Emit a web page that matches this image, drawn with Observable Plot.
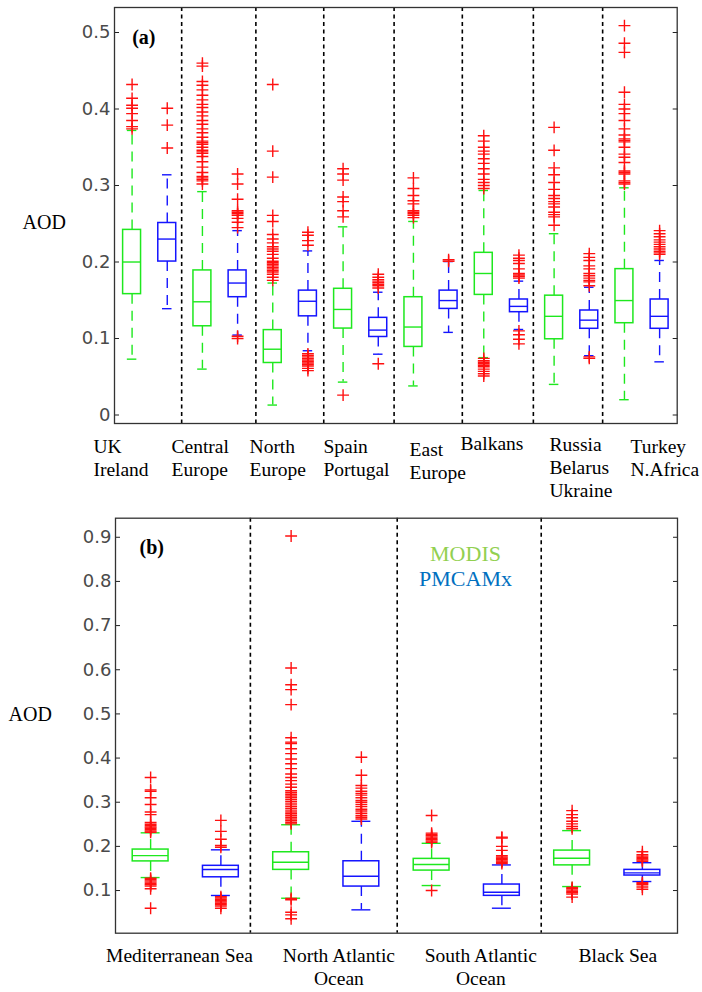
<!DOCTYPE html>
<html><head><meta charset="utf-8">
<script src="https://cdn.jsdelivr.net/npm/d3@7"></script>
<script src="https://cdn.jsdelivr.net/npm/@observablehq/plot@0.6"></script>
<style>body{margin:0;background:#fff;} svg{display:block;}</style>
</head><body><div id="chart"></div><script>
// ---------- Panel (a): land regions ----------
const regionsA = ["UK\nIreland", "Central\nEurope", "North\nEurope", "Spain\nPortugal", "East\nEurope", "Balkans", "Russia\nBelarus\nUkraine", "Turkey\nN.Africa"];
// [lower whisker, q1, median, q3, upper whisker]
const modisA = [
  [0.073, 0.158, 0.200, 0.242, 0.372],
  [0.060, 0.116, 0.148, 0.189, 0.292],
  [0.013, 0.068, 0.086, 0.111, 0.1725],
  [0.043, 0.113, 0.138, 0.165, 0.246],
  [0.038, 0.089, 0.115, 0.154, 0.253],
  [0.075, 0.157, 0.185, 0.212, 0.2935],
  [0.040, 0.099, 0.129, 0.156, 0.237],
  [0.020, 0.120, 0.1496, 0.1907, 0.297]
];
const pmcamxA = [
  [0.139, 0.2006, 0.230, 0.251, 0.314],
  [0.1045, 0.154, 0.1725, 0.189, 0.241],
  [0.084, 0.129, 0.1487, 0.1626, 0.2145],
  [0.0795, 0.102, 0.111, 0.127, 0.1605],
  [0.108, 0.1387, 0.1496, 0.1626, 0.2006],
  [0.1118, 0.1344, 0.142, 0.151, 0.175],
  [0.0775, 0.1127, 0.124, 0.1366, 0.167],
  [0.0695, 0.1127, 0.129, 0.151, 0.202]
];
const modisA_out = [
  [0.432, 0.414, 0.405, 0.401, 0.394, 0.385, 0.377, 0.374],
  [0.460, 0.456, 0.436, 0.431, 0.425, 0.418, 0.412, 0.406, 0.402, 0.396, 0.391, 0.385, 0.380, 0.374, 0.369, 0.363, 0.358, 0.356, 0.354, 0.350, 0.346, 0.344, 0.342, 0.338, 0.331, 0.324, 0.317, 0.312, 0.310, 0.308, 0.306, 0.302],
  [0.432, 0.345, 0.311, 0.261, 0.253, 0.236, 0.230, 0.225, 0.220, 0.217, 0.214, 0.210, 0.205, 0.201, 0.199, 0.197, 0.195, 0.193, 0.191, 0.189, 0.187, 0.184, 0.180, 0.176],
  [0.322, 0.315, 0.307, 0.285, 0.279, 0.267, 0.259, 0.026],
  [0.310, 0.296, 0.287, 0.280, 0.276, 0.267, 0.265, 0.263, 0.261, 0.258],
  [0.365, 0.358, 0.350, 0.345, 0.341, 0.335, 0.329, 0.322, 0.315, 0.308, 0.304, 0.300, 0.296, 0.074, 0.071, 0.069, 0.067, 0.065, 0.063, 0.060, 0.057, 0.054, 0.051],
  [0.376, 0.346, 0.323, 0.314, 0.304, 0.295, 0.287, 0.283, 0.279, 0.276, 0.272, 0.265, 0.262, 0.259, 0.248],
  [0.509, 0.486, 0.474, 0.422, 0.406, 0.400, 0.394, 0.385, 0.374, 0.366, 0.361, 0.359, 0.357, 0.350, 0.341, 0.337, 0.330, 0.319, 0.317, 0.315, 0.306, 0.304, 0.302]
];
const pmcamxA_out = [
  [0.401, 0.379, 0.349],
  [0.315, 0.302, 0.282, 0.267, 0.265, 0.263, 0.261, 0.257, 0.252, 0.245, 0.103, 0.100],
  [0.239, 0.235, 0.228, 0.222, 0.080, 0.078, 0.076, 0.074, 0.072, 0.070, 0.068, 0.066, 0.064, 0.061, 0.058],
  [0.184, 0.180, 0.177, 0.175, 0.173, 0.171, 0.169, 0.166, 0.067],
  [0.203, 0.201],
  [0.209, 0.205, 0.202, 0.198, 0.191, 0.185, 0.183, 0.181, 0.179, 0.110, 0.105, 0.099, 0.093],
  [0.211, 0.206, 0.202, 0.195, 0.191, 0.185, 0.182, 0.179, 0.176, 0.174, 0.169, 0.076, 0.074],
  [0.241, 0.237, 0.233, 0.229, 0.226, 0.223, 0.220, 0.217, 0.214, 0.212, 0.210]
];
const separatorsA = [2.41, 4.52, 6.45, 8.45, 10.39, 12.41, 14.38];
const labelXA = [-0.1, 2.12, 4.34, 6.44, 8.89, 10.34, 12.87, 15.17];
const labelDyA = [0, 0, 0, 0, 3, -3, -1.5, 0];
const yTicksA = [0, 0.1, 0.2, 0.3, 0.4, 0.5];

// ---------- Panel (b): sea regions ----------
const regionsB = ["Mediterranean Sea", "North Atlantic\nOcean", "South Atlantic\nOcean", "Black Sea"];
const modisB = [
  [0.1294, 0.166, 0.179, 0.1928, 0.2307],
  [0.0826, 0.1468, 0.164, 0.1867, 0.249],
  [0.1113, 0.1452, 0.159, 0.1717, 0.207],
  [0.109, 0.157, 0.173, 0.1905, 0.2357]
];
const pmcamxB = [
  [0.0888, 0.130, 0.1476, 0.156, 0.1922],
  [0.0563, 0.109, 0.1324, 0.1663, 0.2568],
  [0.060, 0.088, 0.0962, 0.1136, 0.158],
  [0.1204, 0.134, 0.140, 0.1468, 0.163]
];
const modisB_out = [
  [0.356, 0.328, 0.325, 0.310, 0.295, 0.278, 0.272, 0.254, 0.250, 0.247, 0.244, 0.241, 0.238, 0.235, 0.232, 0.128, 0.125, 0.122, 0.119, 0.116, 0.113, 0.110, 0.104, 0.060],
  [0.903, 0.604, 0.566, 0.555, 0.521, 0.446, 0.436, 0.433, 0.421, 0.410, 0.398, 0.387, 0.376, 0.364, 0.356, 0.349, 0.341, 0.334, 0.326, 0.322, 0.318, 0.314, 0.310, 0.306, 0.302, 0.298, 0.294, 0.290, 0.286, 0.282, 0.278, 0.274, 0.270, 0.266, 0.262, 0.258, 0.254, 0.251, 0.082, 0.079, 0.051, 0.045, 0.036],
  [0.270, 0.230, 0.227, 0.224, 0.221, 0.218, 0.215, 0.212, 0.209, 0.100],
  [0.281, 0.272, 0.265, 0.257, 0.251, 0.245, 0.240, 0.107, 0.104, 0.101, 0.098, 0.095, 0.092, 0.085]
];
const pmcamxB_out = [
  [0.259, 0.234, 0.216, 0.202, 0.198, 0.086, 0.083, 0.080, 0.077, 0.074, 0.071, 0.068, 0.065, 0.060],
  [0.402, 0.361, 0.338, 0.332, 0.325, 0.320, 0.316, 0.310, 0.304, 0.300, 0.295, 0.290, 0.284, 0.280, 0.275, 0.270, 0.266, 0.262],
  [0.221, 0.219, 0.200, 0.191, 0.179, 0.176, 0.173, 0.170, 0.167, 0.164, 0.161],
  [0.188, 0.181, 0.178, 0.175, 0.172, 0.169, 0.166, 0.118, 0.116, 0.113, 0.108, 0.103]
];
const separatorsB = [2.42, 4.51, 6.56];
const labelXB = [1.41, 3.68, 5.70, 7.65];
const yTicksB = [0.1, 0.2, 0.3, 0.4, 0.5, 0.6, 0.7, 0.8, 0.9];

const seriesNames = ["MODIS", "PMCAMx"];

// ---------- helpers ----------
const GREEN = "#1ee81e", BLUE = "#1414ff", RED = "#ff1010";
const SERIF = "Liberation Serif, Times New Roman, serif";

function boxRows(stats, offset) {
  return stats.map((s, i) => ({pos: 2 * i + offset, lo: s[0], q1: s[1], med: s[2], q3: s[3], hi: s[4]}));
}
function outRows(outs, offset) {
  return outs.flatMap((o, i) => o.map(v => ({pos: 2 * i + offset, v})));
}
function boxMarks(rows, color) {
  const hw = 0.255, cw = 0.135, sw = 1.4;
  return [
    Plot.ruleX(rows, {x: "pos", y1: "q3", y2: "hi", stroke: color, strokeWidth: sw, strokeDasharray: "10,7"}),
    Plot.ruleX(rows, {x: "pos", y1: "q1", y2: "lo", stroke: color, strokeWidth: sw, strokeDasharray: "10,7"}),
    Plot.ruleY(rows, {y: "hi", x1: d => d.pos - cw, x2: d => d.pos + cw, stroke: color, strokeWidth: sw}),
    Plot.ruleY(rows, {y: "lo", x1: d => d.pos - cw, x2: d => d.pos + cw, stroke: color, strokeWidth: sw}),
    Plot.rect(rows, {x1: d => d.pos - hw, x2: d => d.pos + hw, y1: "q1", y2: "q3", fill: "none", stroke: color, strokeWidth: 1.5}),
    Plot.ruleY(rows, {y: "med", x1: d => d.pos - hw, x2: d => d.pos + hw, stroke: color, strokeWidth: sw})
  ];
}
function outlierMarks(rows) {
  return Plot.dot(rows, {x: "pos", y: "v", symbol: "plus", r: 3.9, stroke: RED, strokeWidth: 1.4});
}
function axes(ticks) {
  return [
    Plot.axisY(ticks, {anchor: "left", tickSize: 5, dx: 5, tickPadding: 4, tickFormat: d => String(d), label: null, fontSize: 18, fill: "#4a4a4a", stroke: "#222"}),
    Plot.axisY(ticks, {anchor: "right", tickSize: 5, dx: -5, tickFormat: () => "", label: null, stroke: "#222"})
  ];
}
const style = {fontFamily: "DejaVu Sans, sans-serif", fontSize: "18px", color: "#333", background: "white", overflow: "visible"};

// ---------- Panel (a) ----------
const plotA = Plot.plot({
  width: 702, height: 500,
  marginLeft: 114, marginRight: 25.3, marginTop: 7, marginBottom: 77,
  style,
  x: {type: "linear", domain: [0.5, 16.5], axis: null},
  y: {type: "linear", domain: [-0.0111, 0.5327]},
  marks: [
    Plot.ruleX(separatorsA, {x: d => d, stroke: "black", strokeWidth: 1.6, strokeDasharray: "4,3.5"}),
    ...boxMarks(boxRows(modisA, 1), GREEN),
    ...boxMarks(boxRows(pmcamxA, 2), BLUE),
    outlierMarks(outRows(modisA_out, 1)),
    outlierMarks(outRows(pmcamxA_out, 2)),
    ...axes(yTicksA),
    Plot.frame({stroke: "#333", strokeWidth: 1.3}),
    ...regionsA.map((r, i) => Plot.text([r], {x: () => labelXA[i], frameAnchor: "bottom", textAnchor: "start", lineAnchor: "top", lineHeight: 1.18, dy: 12.7 + labelDyA[i], fontFamily: SERIF, fontSize: 19.5, fill: "black"})),
    Plot.text(["AOD"], {frameAnchor: "left", textAnchor: "start", lineAnchor: "middle", dx: -92, dy: 6.6, fontFamily: SERIF, fontSize: 20, fill: "black"}),
    Plot.text(["(a)"], {frameAnchor: "top-left", textAnchor: "start", lineAnchor: "top", dx: 17.7, dy: 21.8, fontFamily: SERIF, fontSize: 20, fontWeight: "bold", fill: "black"})
  ]
});

// ---------- Panel (b) ----------
const plotB = Plot.plot({
  width: 702, height: 492,
  marginLeft: 115, marginRight: 25, marginTop: 17.7, marginBottom: 59.3,
  style,
  x: {type: "linear", domain: [0.5, 8.5], axis: null},
  y: {type: "linear", domain: [0.0034, 0.9432]},
  marks: [
    Plot.ruleX(separatorsB, {x: d => d, stroke: "black", strokeWidth: 1.6, strokeDasharray: "4,3.5"}),
    ...boxMarks(boxRows(modisB, 1), GREEN),
    ...boxMarks(boxRows(pmcamxB, 2), BLUE),
    outlierMarks(outRows(modisB_out, 1)),
    outlierMarks(outRows(pmcamxB_out, 2)),
    ...axes(yTicksB),
    Plot.frame({stroke: "#333", strokeWidth: 1.3}),
    Plot.text(regionsB, {x: (d, i) => labelXB[i], frameAnchor: "bottom", textAnchor: "middle", lineAnchor: "top", lineHeight: 1.18, dy: 12.7, fontFamily: SERIF, fontSize: 19.5, fill: "black"}),
    Plot.text(["AOD"], {frameAnchor: "left", textAnchor: "start", lineAnchor: "middle", dx: -107, dy: -11.6, fontFamily: SERIF, fontSize: 20, fill: "black"}),
    Plot.text(["(b)"], {frameAnchor: "top-left", textAnchor: "start", lineAnchor: "top", dx: 24, dy: 21.1, fontFamily: SERIF, fontSize: 20, fontWeight: "bold", fill: "black"}),
    Plot.text([seriesNames[0]], {frameAnchor: "top", textAnchor: "middle", lineAnchor: "top", dx: 69, dy: 26.7, fontFamily: SERIF, fontSize: 22, fill: "#92d050"}),
    Plot.text([seriesNames[1]], {frameAnchor: "top", textAnchor: "middle", lineAnchor: "top", dx: 69, dy: 51.7, fontFamily: SERIF, fontSize: 22, fill: "#0070c0"})
  ]
});

const chart = document.getElementById("chart");
chart.appendChild(plotA);
chart.appendChild(plotB);
</script></body></html>
